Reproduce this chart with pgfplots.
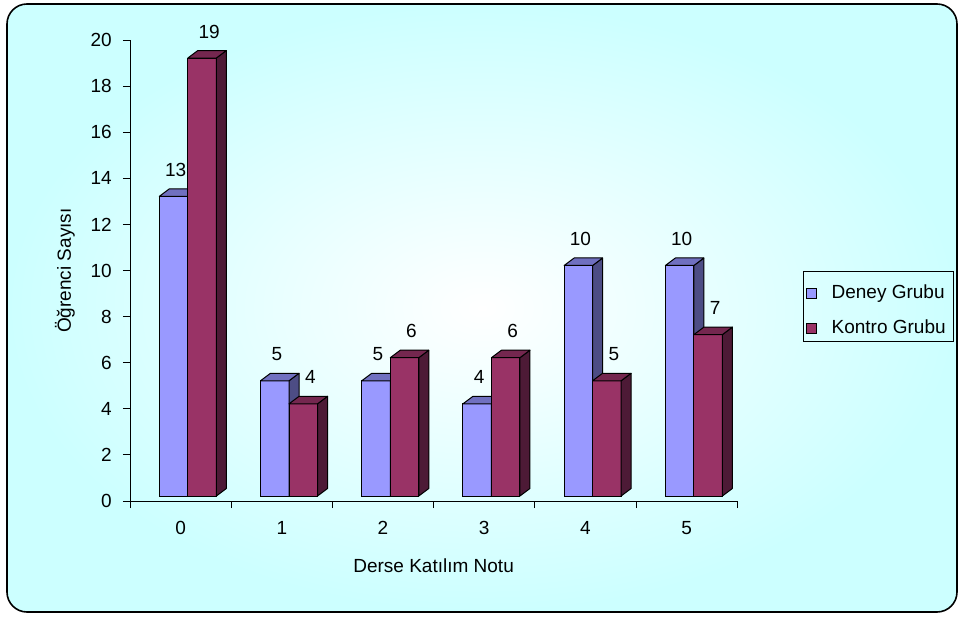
\documentclass[border=0pt]{standalone}
\usepackage{pgfplots}
\pgfplotsset{compat=1.18}
\usepackage{fontspec}
\setmainfont{Liberation Sans}
\definecolor{bgc}{HTML}{CCFFFF}
\definecolor{blueF}{HTML}{9999FF}
\definecolor{blueT}{HTML}{7070C0}
\definecolor{blueS}{HTML}{4D4D85}
\definecolor{redF}{HTML}{993366}
\definecolor{redT}{HTML}{74274F}
\definecolor{redS}{HTML}{4D1A36}
% 3D faces (top and right side) of a bar, drawn at the bar's data point
\newcommand\barfaces[4]{% #1 left, #2 right, #3 side colour, #4 top colour
  \pgfmathsetlengthmacro\barH{\rawy*23.05pt}%
  \pgfsetlinewidth{1pt}\pgfsetroundjoin\pgfsetstrokecolor{black}%
  \pgfpathmoveto{\pgfqpoint{#2}{5pt}}%
  \pgfpathlineto{\pgfpoint{#2+10pt}{12.5pt}}%
  \pgfpathlineto{\pgfpoint{#2+10pt}{12.5pt-\barH}}%
  \pgfpathlineto{\pgfpoint{#2}{5pt-\barH}}%
  \pgfpathclose
  \pgfsetfillcolor{#3}\pgfusepath{fill,stroke}%
  \pgfpathmoveto{\pgfqpoint{#1}{5pt}}%
  \pgfpathlineto{\pgfpoint{#1+10pt}{12.5pt}}%
  \pgfpathlineto{\pgfpoint{#2+10pt}{12.5pt}}%
  \pgfpathlineto{\pgfqpoint{#2}{5pt}}%
  \pgfpathclose
  \pgfsetfillcolor{#4}\pgfusepath{fill,stroke}%
}
\newcommand\barfront[3]{% #1 left, #2 right, #3 colour
  \pgfmathsetlengthmacro\barH{\rawy*23.05pt}%
  \pgfsetlinewidth{1pt}\pgfsetstrokecolor{black}%
  \pgfpathrectanglecorners{\pgfpoint{#1}{5pt-\barH}}{\pgfqpoint{#2}{5pt}}%
  \pgfsetfillcolor{#3}\pgfusepath{fill,stroke}%
}
\pgfdeclareplotmark{facesblue}{\barfaces{-21.25pt}{7.25pt}{blueS}{blueT}}
\pgfdeclareplotmark{facesred}{\barfront{7.25pt}{35.75pt}{redF}\barfaces{7.25pt}{35.75pt}{redS}{redT}}
\begin{document}
\begin{tikzpicture}[font=\fontsize{19}{22}\selectfont]
\useasboundingbox (-130pt,-115pt) rectangle (828pt,501pt);
\shade[inner color=white, outer color=bgc, rounded corners=20pt] (-123pt,-111pt) rectangle (827pt,497pt);
\draw[line width=1.6pt, rounded corners=20pt] (-123pt,-111pt) rectangle (827pt,497pt);
\begin{axis}[
  at={(0pt,0pt)}, anchor=south west,
  x=101.2pt, y=23.05pt,
  xmin=-0.5, xmax=5.5, ymin=0, ymax=20,
  clip=false,
  axis x line*=bottom, axis y line*=left,
  axis line style={-, line width=0.9pt, black},
  /pgf/number format/assume math mode=true,
  xtick={-0.5,0.5,1.5,2.5,3.5,4.5,5.5}, xticklabels={,,,,,,},
  extra x ticks={0,1,2,3,4,5},
  extra x tick labels={0,1,2,3,4,5},
  extra x tick style={major tick length=0pt},
  ytick={0,2,...,20},
  tick style={line width=0.9pt, black},
  tick align=outside,
  major tick length=7pt,
  xticklabel style={anchor=north, inner sep=0pt, yshift=-20.5pt},
  yticklabel style={anchor=east, inner sep=0pt, xshift=-11pt},
  ylabel={Öğrenci Sayısı},
  xlabel={Derse Katılım Notu},
  every axis y label/.style={at={(axis description cs:-0.1071,0.5)}, rotate=90, anchor=center},
  every axis x label/.style={at={(axis description cs:0.5,0)}, anchor=center, yshift=-65pt},
  legend style={at={(axis description cs:1.1084,0.4990)}, anchor=north west,
    draw=black, line width=0.6pt, fill=none,
    inner xsep=3pt, inner ysep=4pt, row sep=8pt,
    nodes={inner xsep=5pt, inner ysep=0pt, text height=23pt, text depth=4pt},
    /tikz/every odd column/.append style={column sep=10pt}},
  legend cell align=left,
]
\addplot[ybar, bar width=28.5pt, bar shift=-7pt, yshift=5pt, fill=blueF, draw=black, line width=1pt,
  legend image code/.code={\draw[fill=blueF, draw=black, line width=0.8pt] (0pt,-14.5pt) rectangle (9.5pt,-5pt);}]
  coordinates {(0,13) (1,5) (2,5) (3,4) (4,10) (5,10)};
\addlegendentry{Deney Grubu}
\addplot[forget plot, only marks, mark=facesblue, black, point meta=y,
  visualization depends on={y \as \rawy},
  nodes near coords,
  every node near coord/.append style={anchor=base, inner sep=0pt, xshift=-5pt, yshift=25pt, text=black}]
  coordinates {(0,13) (1,5) (2,5) (3,4) (4,10) (5,10)};
\addplot[ybar, bar width=28.5pt, bar shift=21.5pt, yshift=5pt, fill=redF, draw=black, line width=1pt,
  legend image code/.code={\draw[fill=redF, draw=black, line width=0.8pt] (0pt,-14.5pt) rectangle (9.5pt,-5pt);}]
  coordinates {(0,19) (1,4) (2,6) (3,6) (4,5) (5,7)};
\addlegendentry{Kontro Grubu}
\addplot[forget plot, only marks, mark=facesred, black, point meta=y,
  visualization depends on={y \as \rawy},
  nodes near coords,
  every node near coord/.append style={anchor=base, inner sep=0pt, xshift=28.5pt, yshift=25pt, text=black}]
  coordinates {(0,19) (1,4) (2,6) (3,6) (4,5) (5,7)};
\end{axis}
\end{tikzpicture}
\end{document}
